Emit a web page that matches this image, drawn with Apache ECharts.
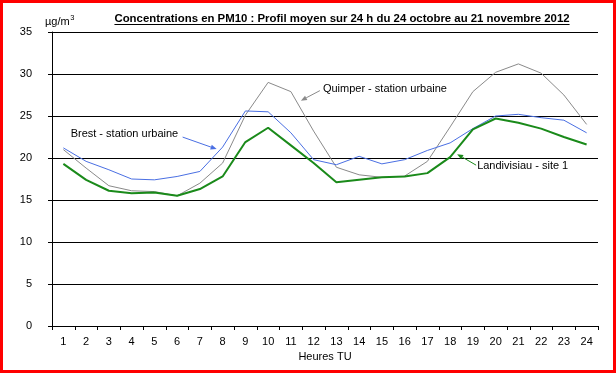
<!DOCTYPE html>
<html><head><meta charset="utf-8">
<script src="https://cdn.jsdelivr.net/npm/echarts@6/dist/echarts.min.js"></script>
<style>html,body{margin:0;padding:0;background:#fff}#c{width:616px;height:373px;box-sizing:border-box;border:3px solid #ff0000}</style>
</head><body><div id="c"></div>
<script>
const hours = ['1','2','3','4','5','6','7','8','9','10','11','12','13','14','15','16','17','18','19','20','21','22','23','24'];
const brest = [21.2,19.6,18.6,17.5,17.4,17.8,18.4,21.3,25.6,25.5,23.0,19.8,19.2,20.2,19.3,19.8,20.9,21.8,23.5,25.0,25.2,24.8,24.5,23.0];
const quimper = [21.0,18.8,16.7,16.1,16.0,15.5,17.0,19.4,25.1,29.0,27.9,23.2,18.9,18.0,17.7,17.85,19.6,23.7,27.9,30.2,31.2,30.1,27.5,24.0];
const landivisiau = [19.3,17.4,16.1,15.8,15.9,15.5,16.3,17.8,21.9,23.6,21.5,19.4,17.1,17.4,17.7,17.8,18.2,20.1,23.4,24.7,24.2,23.5,22.5,21.6];
const yTicks = {min:0, max:35, interval:5};
const titleText = 'Concentrations en PM10 : Profil moyen sur 24 h du 24 octobre au 21 novembre 2012';

const chart = echarts.init(document.getElementById('c'), null, {renderer:'canvas'});
const F = 'Liberation Sans, Arial, sans-serif';
chart.setOption({
  animation:false,
  backgroundColor:'#fff',
  grid:{left:49, right:15, top:29, bottom:44, containLabel:false},
  xAxis:{type:'category', data:hours, boundaryGap:true,
    name:'Heures TU', nameLocation:'middle', nameGap:23,
    nameTextStyle:{fontFamily:F, fontSize:11, color:'#000'},
    axisLine:{lineStyle:{color:'#000', width:1}},
    axisTick:{show:true, length:4, lineStyle:{color:'#000'}},
    axisLabel:{fontFamily:F, fontSize:11, color:'#000', margin:10, interval:0},
    splitLine:{show:false}},
  yAxis:{type:'value', min:yTicks.min, max:yTicks.max, interval:yTicks.interval,
    axisLine:{show:true, lineStyle:{color:'#000', width:1}},
    axisTick:{show:true, length:4, lineStyle:{color:'#000'}},
    axisLabel:{fontFamily:F, fontSize:11, color:'#000', margin:20},
    splitLine:{show:true, lineStyle:{color:'#000', width:1}}},
  series:[
    {name:'Quimper - station urbaine', type:'line', data:quimper, symbol:'none', lineStyle:{color:'#8a8a8a', width:1}, z:2},
    {name:'Brest - station urbaine', type:'line', data:brest, symbol:'none', lineStyle:{color:'#4a6fe3', width:1}, z:3},
    {name:'Landivisiau - site 1', type:'line', data:landivisiau, symbol:'none', lineStyle:{color:'#1a8a1a', width:2}, z:4}
  ]
});

function px(sIdx, i, arr){ return chart.convertToPixel({seriesIndex:sIdx}, [i, arr[i]]); }
function arrow(from, to, color){
  const dx = to[0]-from[0], dy = to[1]-from[1], L = Math.hypot(dx,dy), ux=dx/L, uy=dy/L;
  const hl=6, hw=2.5;
  const bx=to[0]-ux*hl, by=to[1]-uy*hl;
  return [
    {type:'line', shape:{x1:from[0],y1:from[1],x2:bx,y2:by}, style:{stroke:color, lineWidth:1}, z:10},
    {type:'polygon', shape:{points:[to,[bx-uy*hw,by+ux*hw],[bx+uy*hw,by-ux*hw]]}, style:{fill:color}, z:10}
  ];
}
const ctx = document.createElement('canvas').getContext('2d');
ctx.font = 'bold 11.4px ' + F;
const tw = ctx.measureText(titleText).width;
ctx.font = '11px ' + F;
const uw = ctx.measureText('µg/m').width;
const tcx = 339;
const pB = px(1,7,brest), pQ = px(0,10,quimper), pL = px(2,17,landivisiau);
const tB = [pB[0]-6, pB[1]+2], tQ = [pQ[0]+10, pQ[1]+9], tL = [pL[0]+7, pL[1]-3];
const labStyle = {fontFamily:F, fontSize:11, fill:'#000'};
chart.setOption({graphic:[
  {type:'text', x:tcx, y:15.5, style:{text:titleText, fontFamily:F, fontSize:11.4, fontWeight:'bold', fill:'#000', align:'center', verticalAlign:'middle'}},
  {type:'line', shape:{x1:tcx-tw/2, y1:21.5, x2:tcx+tw/2, y2:21.5}, style:{stroke:'#000', lineWidth:1}},
  {type:'text', x:42, y:19, style:{text:'µg/m', fontFamily:F, fontSize:11, fill:'#000', verticalAlign:'middle'}},
  {type:'text', x:42+uw+0.5, y:15, style:{text:'3', fontFamily:F, fontSize:7.5, fill:'#000', verticalAlign:'middle'}},
  {type:'text', x:tB[0]-146, y:tB[1]-15, style:Object.assign({text:'Brest - station urbaine', verticalAlign:'middle'}, labStyle)},
  ...arrow([tB[0]-34, tB[1]-12], tB, '#4a6fe3'),
  {type:'text', x:tQ[0]+22, y:tQ[1]-12, style:Object.assign({text:'Quimper - station urbaine', verticalAlign:'middle'}, labStyle)},
  ...arrow([tQ[0]+19, tQ[1]-10], tQ, '#8a8a8a'),
  {type:'text', x:tL[0]+20, y:tL[1]+12, style:Object.assign({text:'Landivisiau - site 1', verticalAlign:'middle'}, labStyle)},
  ...arrow([tL[0]+19, tL[1]+11], tL, '#1a8a1a')
]});
</script></body></html>
